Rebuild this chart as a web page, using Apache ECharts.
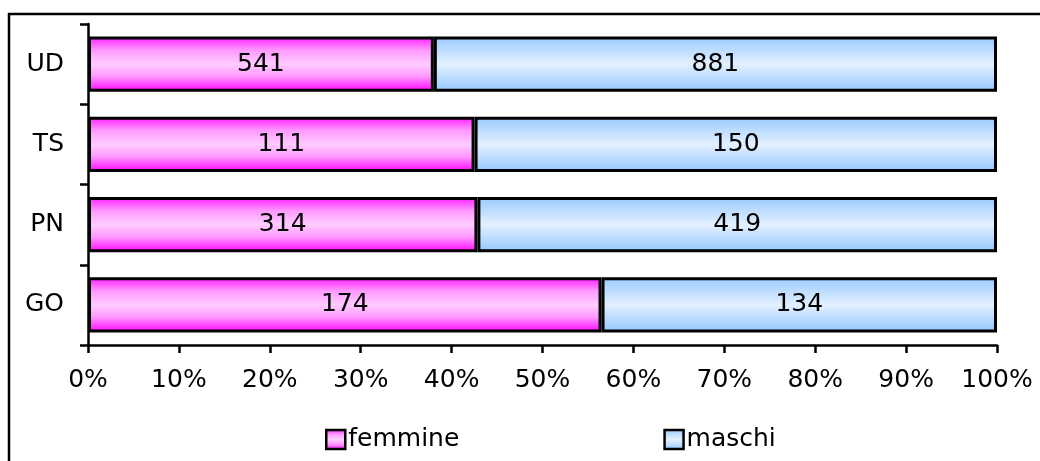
<!DOCTYPE html>
<html>
<head>
<meta charset="utf-8">
<script src="https://cdn.jsdelivr.net/npm/echarts@6/dist/echarts.min.js"></script>
<style>
html, body { margin: 0; padding: 0; background: #fff; }
#chart { width: 1040px; height: 461px; }
</style>
</head>
<body>
<div id="chart"></div>
<script>
// province, bottom to top
var categories = ['GO', 'PN', 'TS', 'UD'];
// counts
var femmine = [174, 314, 111, 541];
var maschi = [134, 419, 150, 881];
var xTicks = [0, 10, 20, 30, 40, 50, 60, 70, 80, 90, 100];

// shares for the 100% stack
var femPct = femmine.map(function (v, i) { return v / (v + maschi[i]) * 100; });
var masPct = maschi.map(function (v, i) { return v / (v + femmine[i]) * 100; });

var FONT = '"DejaVu Sans", Verdana, sans-serif';

var pinkFill = new echarts.graphic.LinearGradient(0, 0, 0, 1, [
  { offset: 0, color: '#ff1aff' },
  { offset: 0.25, color: '#ff99ff' },
  { offset: 0.5, color: '#ffccff' },
  { offset: 0.72, color: '#ff99ff' },
  { offset: 1, color: '#ff00ff' }
]);
var blueFill = new echarts.graphic.LinearGradient(0, 0, 0, 1, [
  { offset: 0, color: '#99c9ff' },
  { offset: 0.5, color: '#e3f0ff' },
  { offset: 1, color: '#94c6ff' }
]);

var chart = echarts.init(document.getElementById('chart'));
chart.setOption({
  animation: false,
  textStyle: { fontFamily: FONT, color: '#000' },
  graphic: [{
    type: 'rect',
    shape: { x: 9, y: 14, width: 1200, height: 600 },
    style: { fill: 'none', stroke: '#000', lineWidth: 2.5 },
    silent: true
  }],
  grid: { left: 88, right: 43, top: 24, bottom: 116, containLabel: false },
  legend: {
    left: 320,
    top: 422,
    itemWidth: 19,
    itemHeight: 19,
    itemGap: 204,
    textStyle: { fontFamily: FONT, fontSize: 25, color: '#000', padding: [0, 0, 0, -2] },
    data: [
      { name: 'femmine', icon: 'rect', itemStyle: { color: pinkFill, borderColor: '#000', borderWidth: 2.5 } },
      { name: 'maschi', icon: 'rect', itemStyle: { color: blueFill, borderColor: '#000', borderWidth: 2.5 } }
    ]
  },
  xAxis: {
    type: 'value',
    min: xTicks[0],
    max: xTicks[xTicks.length - 1],
    interval: 10,
    splitLine: { show: false },
    axisLine: { show: true, lineStyle: { color: '#000', width: 2.5 } },
    axisTick: { show: true, length: 8, lineStyle: { color: '#000', width: 2.5 } },
    axisLabel: { formatter: '{value}%', fontSize: 25, color: '#000', margin: 23, fontFamily: FONT }
  },
  yAxis: {
    type: 'category',
    data: categories,
    axisLine: { show: true, lineStyle: { color: '#000', width: 2.5 } },
    axisTick: { show: true, length: 8, lineStyle: { color: '#000', width: 2.5 } },
    axisLabel: { fontSize: 25, color: '#000', margin: 24, fontFamily: FONT }
  },
  series: [
    {
      name: 'femmine',
      type: 'bar',
      stack: 'tot',
      barCategoryGap: '31%',
      data: femPct,
      itemStyle: { color: pinkFill, borderColor: '#000', borderWidth: 3 },
      label: {
        show: true,
        position: 'inside',
        fontSize: 25,
        color: '#000',
        fontFamily: FONT,
        formatter: function (p) { return femmine[p.dataIndex]; }
      }
    },
    {
      name: 'maschi',
      type: 'bar',
      stack: 'tot',
      data: masPct,
      itemStyle: { color: blueFill, borderColor: '#000', borderWidth: 3 },
      label: {
        show: true,
        position: 'inside',
        fontSize: 25,
        color: '#000',
        fontFamily: FONT,
        formatter: function (p) { return maschi[p.dataIndex]; }
      }
    }
  ]
});
</script>
</body>
</html>
